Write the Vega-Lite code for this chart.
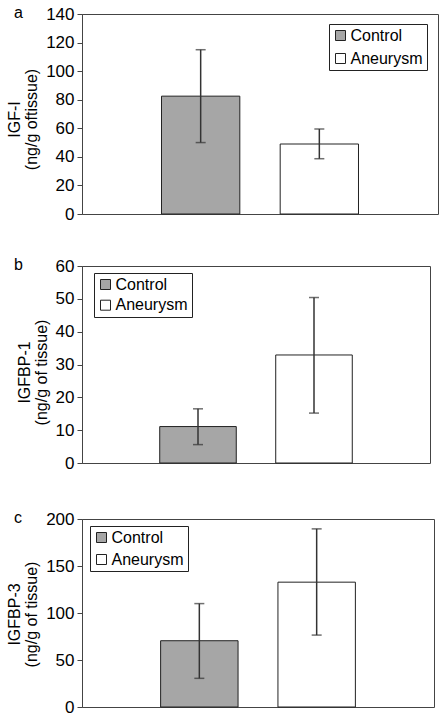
{
  "$schema": "https://vega.github.io/schema/vega-lite/v6.json",
  "background": "white",
  "padding": {"left": 6, "top": 4, "right": 0, "bottom": 0},
  "spacing": 33,
  "datasets": {
    "a": [
      {"group": "Control", "mean": 82.5, "lo": 50, "hi": 115},
      {"group": "Aneurysm", "mean": 49, "lo": 38.7, "hi": 59.5}
    ],
    "b": [
      {"group": "Control", "mean": 11.1, "lo": 5.6, "hi": 16.5},
      {"group": "Aneurysm", "mean": 32.9, "lo": 15.2, "hi": 50.4}
    ],
    "c": [
      {"group": "Control", "mean": 70.5, "lo": 30.5, "hi": 110},
      {"group": "Aneurysm", "mean": 132.8, "lo": 76.5, "hi": 189.5}
    ]
  },
  "config": {
    "font": "Liberation Sans",
    "view": {"stroke": "#444", "strokeWidth": 1},
    "axis": {
      "labelFont": "Liberation Sans", "titleFont": "Liberation Sans",
      "labelFontSize": 17, "labelColor": "#000", "labelOverlap": false, "labelBound": false, "labelLineHeight": 17,
      "titleFontSize": 16, "titleFontWeight": "normal", "titleColor": "#000",
      "titlePadding": 6, "tickSize": 5, "tickColor": "#444", "domainColor": "#444",
      "labelPadding": 3, "grid": false
    },
    "axisY": {"labelOverlap": false},
    "axisQuantitative": {"labelOverlap": false},
    "legend": {
      "labelFont": "Liberation Sans", "labelFontSize": 16, "labelColor": "#000",
      "symbolType": "square", "symbolSize": 100, "symbolStrokeColor": "#222", "symbolStrokeWidth": 1,
      "strokeColor": "#222", "fillColor": "white", "labelOffset": 2, "title": null
    },
    "title": {"font": "Liberation Sans", "fontSize": 16, "fontWeight": "normal", "color": "#000"}
  },
  "resolve": {"scale": {"y": "independent", "fill": "independent"}, "legend": {"fill": "independent"}},
  "vconcat": [
    {
      "width": 356, "height": 200,
      "data": {"name": "a"},
      "title": {"text": "a", "anchor": "start", "frame": "group", "dx": -68, "baseline": "middle", "offset": 0, "dy": 24},
      "encoding": {
        "x": {"field": "group", "type": "nominal", "sort": ["Control", "Aneurysm"], "scale": {"paddingInner": 0.34, "paddingOuter": 0.67}, "axis": null},
        "y": {"field": "mean", "type": "quantitative", "scale": {"domain": [0, 140]}, "axis": {"values": [0, 20, 40, 60, 80, 100, 120, 140], "labelOverlap": false, "title": ["IGF-I", "(ng/g oftissue)"], "titleLineHeight": 17, "titleY": 105}}
      },
      "layer": [
        {"mark": {"type": "bar", "stroke": "#222", "strokeWidth": 1},
         "encoding": {
           "fill": {"field": "group", "type": "nominal", "scale": {"domain": ["Control", "Aneurysm"], "range": ["#a6a6a6", "#ffffff"]}, "legend": {"orient": "none", "legendX": 247, "legendY": 10, "padding": 3.5, "rowPadding": 7}}
         }},
        {"mark": {"type": "rule", "color": "#333", "strokeWidth": 1.5}, "encoding": {"y": {"field": "lo", "type": "quantitative"}, "y2": {"field": "hi"}}},
        {"mark": {"type": "tick", "color": "#333", "size": 10, "thickness": 1.5}, "encoding": {"y": {"field": "lo", "type": "quantitative"}}},
        {"mark": {"type": "tick", "color": "#333", "size": 10, "thickness": 1.5}, "encoding": {"y": {"field": "hi", "type": "quantitative"}}}
      ]
    },
    {
      "width": 348, "height": 197,
      "data": {"name": "b"},
      "title": {"text": "b", "anchor": "start", "frame": "group", "dx": -68, "baseline": "middle", "offset": 0, "dy": 24},
      "encoding": {
        "x": {"field": "group", "type": "nominal", "sort": ["Control", "Aneurysm"], "scale": {"paddingInner": 0.34, "paddingOuter": 0.67}, "axis": {"labels": false, "domain": false, "ticks": true, "tickSize": 12, "tickOpacity": 0, "title": null}},
        "y": {"field": "mean", "type": "quantitative", "scale": {"domain": [0, 60]}, "axis": {"values": [0, 10, 20, 30, 40, 50, 60], "labelOverlap": false, "title": ["IGFBP-1", "(ng/g of tissue)"], "titleLineHeight": 17, "titleY": 106}}
      },
      "layer": [
        {"mark": {"type": "bar", "stroke": "#222", "strokeWidth": 1},
         "encoding": {
           "fill": {"field": "group", "type": "nominal", "scale": {"domain": ["Control", "Aneurysm"], "range": ["#a6a6a6", "#ffffff"]}, "legend": {"orient": "none", "legendX": 12, "legendY": 7, "padding": 3.5, "rowPadding": 4.7}}
         }},
        {"mark": {"type": "rule", "color": "#333", "strokeWidth": 1.5}, "encoding": {"y": {"field": "lo", "type": "quantitative"}, "y2": {"field": "hi"}}},
        {"mark": {"type": "tick", "color": "#333", "size": 10, "thickness": 1.5}, "encoding": {"y": {"field": "lo", "type": "quantitative"}}},
        {"mark": {"type": "tick", "color": "#333", "size": 10, "thickness": 1.5}, "encoding": {"y": {"field": "hi", "type": "quantitative"}}}
      ]
    },
    {
      "width": 352, "height": 188,
      "data": {"name": "c"},
      "title": {"text": "c", "anchor": "start", "frame": "group", "dx": -68, "baseline": "middle", "offset": 0, "dy": 24},
      "encoding": {
        "x": {"field": "group", "type": "nominal", "sort": ["Control", "Aneurysm"], "scale": {"paddingInner": 0.34, "paddingOuter": 0.67}, "axis": null},
        "y": {"field": "mean", "type": "quantitative", "scale": {"domain": [0, 200]}, "axis": {"values": [0, 50, 100, 150, 200], "labelOverlap": false, "title": ["IGFBP-3", "(ng/g of tissue)"], "titleLineHeight": 17, "titleY": 95}}
      },
      "layer": [
        {"mark": {"type": "bar", "stroke": "#222", "strokeWidth": 1},
         "encoding": {
           "fill": {"field": "group", "type": "nominal", "scale": {"domain": ["Control", "Aneurysm"], "range": ["#a6a6a6", "#ffffff"]}, "legend": {"orient": "none", "legendX": 8, "legendY": 7, "padding": 3.5, "rowPadding": 6}}
         }},
        {"mark": {"type": "rule", "color": "#333", "strokeWidth": 1.5}, "encoding": {"y": {"field": "lo", "type": "quantitative"}, "y2": {"field": "hi"}}},
        {"mark": {"type": "tick", "color": "#333", "size": 10, "thickness": 1.5}, "encoding": {"y": {"field": "lo", "type": "quantitative"}}},
        {"mark": {"type": "tick", "color": "#333", "size": 10, "thickness": 1.5}, "encoding": {"y": {"field": "hi", "type": "quantitative"}}}
      ]
    }
  ]
}
